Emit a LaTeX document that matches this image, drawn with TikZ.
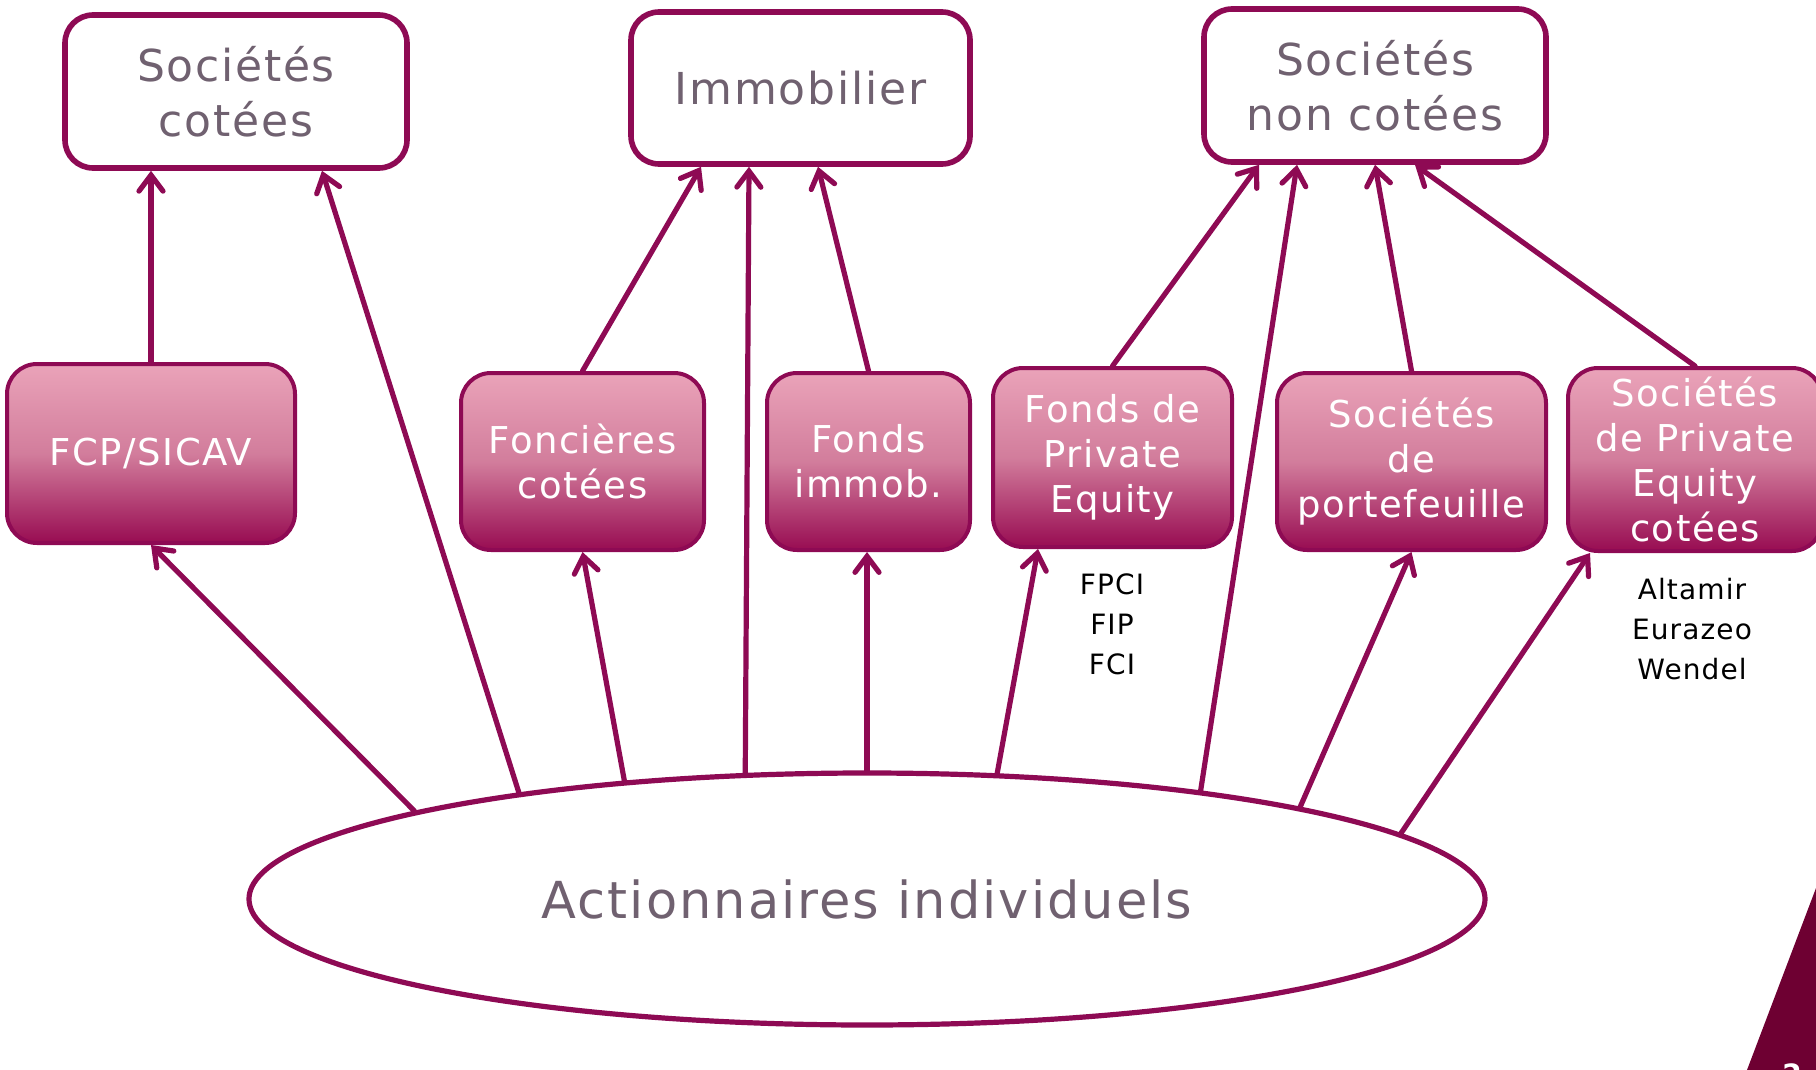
\documentclass[tikz,border=0pt]{standalone}
\usepackage{fontspec}
\setmainfont{DejaVu Sans}[LetterSpace=4]
\usetikzlibrary{arrows.meta,shapes.geometric}
\definecolor{prune}{RGB}{142,10,84}
\definecolor{rosec}{RGB}{234,163,185}
\definecolor{rosem}{RGB}{210,125,156}
\definecolor{bordeaux}{RGB}{152,12,82}
\definecolor{grisv}{RGB}{112,97,112}
\definecolor{coin}{RGB}{110,0,50}
\tikzset{
  cible/.style={draw=prune,line width=2.8pt,rounded corners=14pt,fill=white,text=grisv,
    align=center,inner sep=0pt,font=\fontsize{22}{27.5}\selectfont},
  vehicule/.style={draw=prune,line width=2pt,rounded corners=15pt,top color=rosec,
    bottom color=bordeaux,middle color=rosem,text=white,align=center,inner sep=0pt,
    font=\fontsize{18.5}{22.5}\selectfont},
  fleche/.style={draw=prune,line width=2.6pt,line cap=round,
    -{Straight Barb[length=8pt,width=12pt,line cap=round]}},
  note/.style={align=center,font=\fontsize{14}{20}\selectfont}
}
\begin{document}
\begin{tikzpicture}[x=0.5pt,y=-0.5pt]
  \useasboundingbox (0,0) rectangle (1816,1070);
  \clip (0,0) rectangle (1816,1070);
  % cibles
  \node[cible,minimum width=171pt,minimum height=76.5pt] (cot) at (236,91.5) {Sociétés\\cotées};
  \node[cible,minimum width=169.5pt,minimum height=76pt] (imm) at (800.5,88) {Immobilier};
  \node[cible,minimum width=171pt,minimum height=76.5pt] (ncot) at (1375,85.5) {Sociétés\\non cotées};
  % vehicules
  \node[vehicule,minimum width=144pt,minimum height=89.5pt] (fcp) at (151,453.5) {FCP/SICAV};
  \node[vehicule,minimum width=121.5pt,minimum height=88.5pt] (fon) at (582.5,461.5) {Foncières\\cotées};
  \node[vehicule,minimum width=101.5pt,minimum height=88.5pt] (fim) at (868.5,461.5) {Fonds\\immob.};
  \node[vehicule,minimum width=119.5pt,minimum height=89.5pt] (fpe) at (1112.5,457.5) {Fonds de\\Private\\Equity};
  \node[vehicule,minimum width=134.5pt,minimum height=88.5pt] (port) at (1411.5,461.5) {Sociétés\\de\\portefeuille};
  \node[vehicule,minimum width=127pt,minimum height=91.5pt] (spe) at (1695,459.5) {Sociétés\\de Private\\Equity\\cotées};
  \node[note] (exfpe) at (1112,624) {FPCI\\FIP\\FCI};
  \node[note] (exspe) at (1692,629) {Altamir\\Eurazeo\\Wendel};
  % actionnaires
  \node[ellipse,draw=prune,line width=2.6pt,fill=white,inner sep=0pt,minimum width=618pt,
    minimum height=126pt,text=grisv,font=\fontsize{25.5}{30}\selectfont] (ell) at (867,899) {Actionnaires individuels};
  % fleches
  \draw[fleche] (fcp.north) -- (fcp.north |- cot.south);
  \draw[fleche] (ell.163) -- ([xshift=43pt]cot.south);
  \draw[fleche] (ell.169) -- (fcp.south);
  \draw[fleche] (fon.north) -- ([xshift=-49.75pt]imm.south);
  \draw[fleche] (ell.154) -- (fon.south);
  \draw[fleche] (ell.134) -- ([xshift=-25.75pt]imm.south);
  \draw[fleche] (fim.north) -- ([xshift=8.75pt]imm.south);
  \draw[fleche] (ell.north) -- (ell.north |- fim.south);
  \draw[fleche] (fpe.north) -- ([xshift=-58pt]ncot.south);
  \draw[fleche] (ell.44) -- ([xshift=-37.25pt]fpe.south);
  \draw[fleche] (ell.18) -- ([xshift=-39pt]ncot.south);
  \draw[fleche] (port.north) -- (ncot.south);
  \draw[fleche] (ell.12) -- (port.south);
  \draw[fleche] (spe.north) -- ([xshift=20pt]ncot.south);
  \draw[fleche] (ell.7) -- ([xshift=-52.5pt]spe.south);
  % coin
  \fill[coin] (1747,1070) -- (1816,888) -- (1816,1070) -- cycle;
  \node[text=white,anchor=north,font=\bfseries\fontsize{14}{14}\selectfont] (page) at (1792,1057) {2};
\end{tikzpicture}
\end{document}
